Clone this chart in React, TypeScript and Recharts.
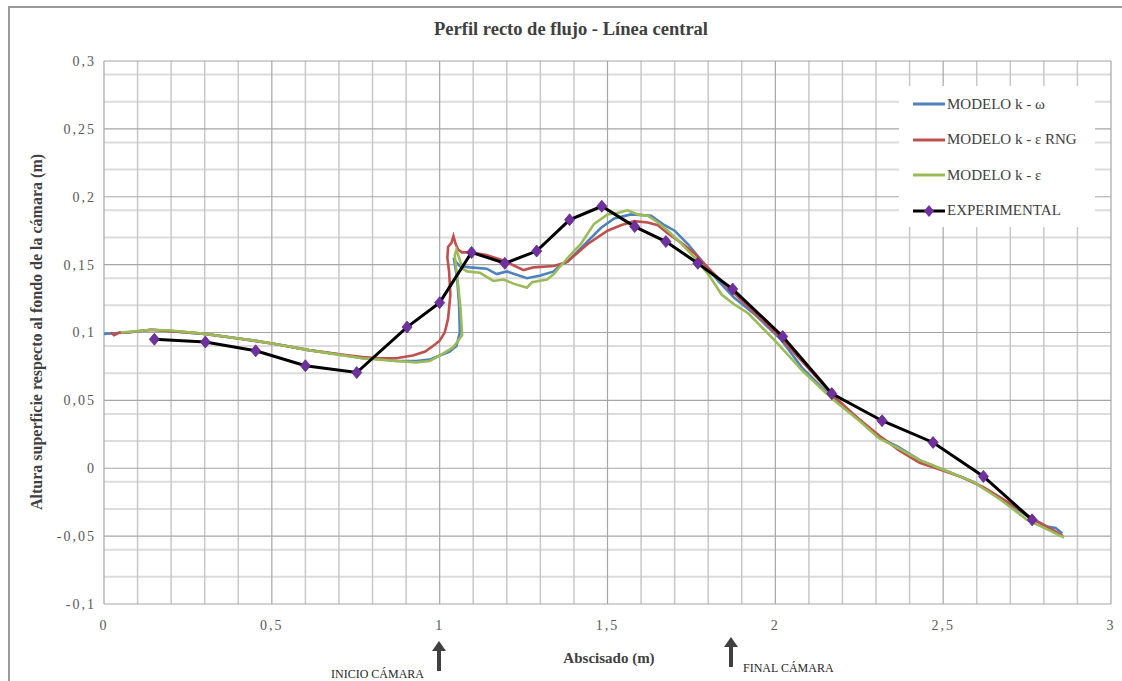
import React from 'react';
import { LineChart, Line, XAxis, YAxis, CartesianGrid } from 'recharts';

type Pt = { x: number; y: number };

// Perfil de superficie libre a lo largo de la línea central [abscisa (m), altura (m)]
const modeloKOmega: [number, number][] = [
  [0, 0.099], [0.03, 0.0995], [0.07, 0.1], [0.14, 0.102], [0.2, 0.101], [0.3, 0.099],
  [0.39, 0.096], [0.45, 0.094], [0.51, 0.0915], [0.61, 0.087], [0.7, 0.084], [0.77, 0.081],
  [0.82, 0.0805], [0.87, 0.079], [0.93, 0.079], [0.97, 0.08], [1.0, 0.083], [1.03, 0.086],
  [1.05, 0.09], [1.06, 0.1], [1.058, 0.12], [1.052, 0.14], [1.042, 0.155], [1.048, 0.152],
  [1.06, 0.149], [1.09, 0.148], [1.14, 0.147], [1.17, 0.143], [1.2, 0.145], [1.26, 0.14],
  [1.3, 0.142], [1.34, 0.145], [1.36, 0.15], [1.38, 0.152], [1.42, 0.162], [1.48, 0.177],
  [1.52, 0.184], [1.57, 0.187], [1.63, 0.186], [1.67, 0.179], [1.7, 0.175], [1.74, 0.165],
  [1.78, 0.153], [1.83, 0.138], [1.876, 0.126], [1.94, 0.113], [2.016, 0.095], [2.08, 0.074],
  [2.165, 0.053], [2.25, 0.036], [2.305, 0.023], [2.365, 0.016], [2.43, 0.006], [2.51, -0.002],
  [2.59, -0.01], [2.67, -0.022], [2.75, -0.035], [2.81, -0.043], [2.835, -0.044], [2.855, -0.048],
];

const modeloKEpsRng: [number, number][] = [
  [0.02, 0.1], [0.03, 0.098], [0.045, 0.1], [0.07, 0.1], [0.14, 0.102], [0.2, 0.101],
  [0.3, 0.099], [0.39, 0.096], [0.51, 0.0915], [0.61, 0.087], [0.7, 0.084], [0.77, 0.082],
  [0.82, 0.081], [0.87, 0.081], [0.92, 0.083], [0.957, 0.086], [0.98, 0.09], [1.0, 0.094],
  [1.015, 0.1], [1.025, 0.11], [1.032, 0.128], [1.028, 0.145], [1.023, 0.155], [1.025, 0.163],
  [1.035, 0.166], [1.041, 0.171], [1.048, 0.165], [1.055, 0.161], [1.067, 0.159], [1.09, 0.159],
  [1.14, 0.157], [1.19, 0.153], [1.25, 0.146], [1.28, 0.148], [1.34, 0.149], [1.38, 0.152],
  [1.44, 0.165], [1.5, 0.175], [1.54, 0.179], [1.58, 0.182], [1.62, 0.181], [1.65, 0.179],
  [1.68, 0.173], [1.72, 0.166], [1.76, 0.158], [1.81, 0.145], [1.86, 0.133], [1.92, 0.119],
  [2.016, 0.096], [2.09, 0.076], [2.17, 0.054], [2.25, 0.036], [2.31, 0.024], [2.37, 0.013],
  [2.43, 0.004], [2.49, -0.001], [2.55, -0.006], [2.62, -0.014], [2.7, -0.026], [2.77, -0.038],
  [2.83, -0.046], [2.857, -0.05],
];

const modeloKEps: [number, number][] = [
  [0.05, 0.1], [0.1, 0.101], [0.143, 0.102], [0.2, 0.1015], [0.3, 0.099], [0.39, 0.096],
  [0.45, 0.094], [0.51, 0.0915], [0.61, 0.087], [0.7, 0.0835], [0.77, 0.081], [0.82, 0.08],
  [0.87, 0.079], [0.93, 0.078], [0.97, 0.079], [1.0, 0.083], [1.04, 0.089], [1.067, 0.098],
  [1.062, 0.118], [1.055, 0.135], [1.047, 0.152], [1.045, 0.157], [1.05, 0.161], [1.058, 0.155],
  [1.068, 0.147], [1.082, 0.145], [1.12, 0.144], [1.16, 0.138], [1.19, 0.139], [1.22, 0.136],
  [1.26, 0.133], [1.275, 0.137], [1.32, 0.139], [1.34, 0.143], [1.36, 0.149], [1.4, 0.16],
  [1.42, 0.165], [1.46, 0.18], [1.5, 0.187], [1.53, 0.188], [1.56, 0.19], [1.59, 0.187],
  [1.62, 0.186], [1.65, 0.181], [1.68, 0.175], [1.71, 0.168], [1.76, 0.155], [1.8, 0.143],
  [1.84, 0.128], [1.876, 0.121], [1.92, 0.114], [2.01, 0.091], [2.08, 0.072], [2.17, 0.051],
  [2.25, 0.035], [2.31, 0.022], [2.365, 0.015], [2.43, 0.006], [2.51, -0.002], [2.59, -0.01],
  [2.67, -0.023], [2.75, -0.038], [2.81, -0.045], [2.86, -0.051],
];

const experimental: [number, number][] = [
  [0.15, 0.095], [0.302, 0.093], [0.452, 0.0865], [0.6, 0.0755], [0.753, 0.0705], [0.903, 0.104],
  [1.0, 0.122], [1.095, 0.159], [1.194, 0.151], [1.289, 0.16], [1.387, 0.183], [1.483, 0.193],
  [1.581, 0.178], [1.674, 0.167], [1.769, 0.151], [1.873, 0.132], [2.022, 0.097], [2.168, 0.055],
  [2.318, 0.035], [2.47, 0.019], [2.62, -0.006], [2.765, -0.038],
];

const xTicks = [0, 0.5, 1, 1.5, 2, 2.5, 3];
const yTicks = [-0.1, -0.05, 0, 0.05, 0.1, 0.15, 0.2, 0.25, 0.3];

const toPts = (arr: [number, number][]): Pt[] => arr.map(([x, y]) => ({ x, y }));

const series = [
  { name: 'MODELO k - ω', color: '#4f81bd', data: toPts(modeloKOmega) },
  { name: 'MODELO k - ε RNG', color: '#c0504d', data: toPts(modeloKEpsRng) },
  { name: 'MODELO k - ε', color: '#9bbb59', data: toPts(modeloKEps) },
];
const expSeries = { name: 'EXPERIMENTAL', color: '#000000', data: toPts(experimental) };

// grid spacing: minor horizontals every 0.01, verticals every 0.1
const minorY: number[] = [];
for (let i = -10; i <= 30; i++) if (i % 5 !== 0) minorY.push(i / 100);
const vertY: number[] = [];
for (let i = 0; i <= 30; i++) if (i % 5 !== 0) vertY.push(i / 10);

const fmt = (v: number) => String(parseFloat(v.toFixed(2))).replace('.', ',');

const serif = '"Liberation Serif", "Times New Roman", serif';
const tickStyle = { fill: '#595959', fontSize: 14, fontFamily: serif, letterSpacing: 2 };

const Diamond = (props: any) => {
  const { cx, cy, index } = props;
  if (cx == null || cy == null) return <g key={`e-${index}`} />;
  const r = 6;
  return (
    <polygon
      key={`d-${index}`}
      points={`${cx},${cy - r} ${cx + r - 1},${cy} ${cx},${cy + r} ${cx - r + 1},${cy}`}
      fill="#7030a0"
      stroke="#5a2a80"
      strokeWidth={0.8}
    />
  );
};

const Arrow = ({ left, top }: { left: number; top: number }) => (
  <svg style={{ position: 'absolute', left: left - 8, top }} width={16} height={30}>
    <polygon points="8,0 15,10 10,10 10,30 6,30 6,10 1,10" fill="#404040" />
  </svg>
);

export default function App() {
  return (
    <div style={{ position: 'absolute', left: 0, top: 0, width: 1122, height: 681, background: '#fff', overflow: 'hidden', fontFamily: serif }}>
      <div style={{ position: 'absolute', left: 8, top: 6, width: 1140, height: 720, border: '2px solid #9a9a9a' }} />
      <div style={{ position: 'absolute', left: 10, width: 1122, top: 19, textAlign: 'center', fontSize: 18.5, fontWeight: 'bold', color: '#404040' }}>
        Perfil recto de flujo - Línea central
      </div>
      <LineChart width={1122} height={681} margin={{ top: 61, right: 11, bottom: 0, left: 0 }} style={{ position: 'absolute', left: 0, top: 0 }}>
        <CartesianGrid horizontalValues={minorY} vertical={false} stroke="#dcdcdc" strokeWidth={2} />
        <CartesianGrid verticalValues={vertY} horizontal={false} stroke="#c8c8c8" strokeWidth={1.5} />
        <CartesianGrid horizontalValues={yTicks} verticalValues={xTicks} stroke="#a6a6a6" strokeWidth={1.2} />
        <XAxis
          type="number"
          dataKey="x"
          domain={[0, 3]}
          ticks={xTicks}
          tickFormatter={fmt}
          tick={tickStyle}
          tickLine={false}
          tickSize={0}
          tickMargin={16}
          axisLine={false}
          height={77}
          allowDuplicatedCategory={false}
        />
        <YAxis
          type="number"
          dataKey="y"
          domain={[-0.1, 0.3]}
          ticks={yTicks}
          tickFormatter={fmt}
          tick={tickStyle}
          tickLine={false}
          tickSize={0}
          tickMargin={8}
          axisLine={false}
          width={104}
        />
        {series.map((s) => (
          <Line
            key={s.name}
            data={s.data}
            dataKey="y"
            name={s.name}
            type="linear"
            stroke={s.color}
            strokeWidth={2.6}
            dot={false}
            isAnimationActive={false}
          />
        ))}
        <Line
          data={expSeries.data}
          dataKey="y"
          name={expSeries.name}
          type="linear"
          stroke={expSeries.color}
          strokeWidth={3}
          dot={Diamond}
          isAnimationActive={false}
        />
      </LineChart>

      {/* axis titles */}
      <div style={{ position: 'absolute', left: 37, top: 332, transform: 'translate(-50%, -50%) rotate(-90deg)', whiteSpace: 'nowrap', fontSize: 16, fontWeight: 'bold', color: '#404040' }}>
        Altura superficie respecto al fondo de la cámara (m)
      </div>
      <div style={{ position: 'absolute', left: 609, top: 658, transform: 'translate(-50%, -50%)', whiteSpace: 'nowrap', fontSize: 15, fontWeight: 'bold', color: '#404040' }}>
        Abscisado (m)
      </div>

      {/* legend */}
      <div style={{ position: 'absolute', left: 899, top: 86, width: 196, height: 141, background: '#fff' }}>
        {[...series, expSeries].map((s, i) => (
          <div key={s.name} style={{ position: 'absolute', left: 14, top: 18 + i * 35.5 - 9, height: 18, display: 'flex', alignItems: 'center' }}>
            <svg width={34} height={14}>
              <line x1={0} y1={7} x2={32} y2={7} stroke={s.color} strokeWidth={3} />
              {s === expSeries && <polygon points="16,1 21,7 16,13 11,7" fill="#7030a0" />}
            </svg>
            <span style={{ fontSize: 15, color: '#404040', whiteSpace: 'nowrap' }}>{s.name}</span>
          </div>
        ))}
      </div>

      {/* camera start / end markers */}
      <Arrow left={439} top={641} />
      <div style={{ position: 'absolute', left: 331, top: 667, fontSize: 12, color: '#262626', whiteSpace: 'nowrap' }}>INICIO CÁMARA</div>
      <Arrow left={731} top={637} />
      <div style={{ position: 'absolute', left: 743, top: 661, fontSize: 12, color: '#262626', whiteSpace: 'nowrap' }}>FINAL CÁMARA</div>
    </div>
  );
}
